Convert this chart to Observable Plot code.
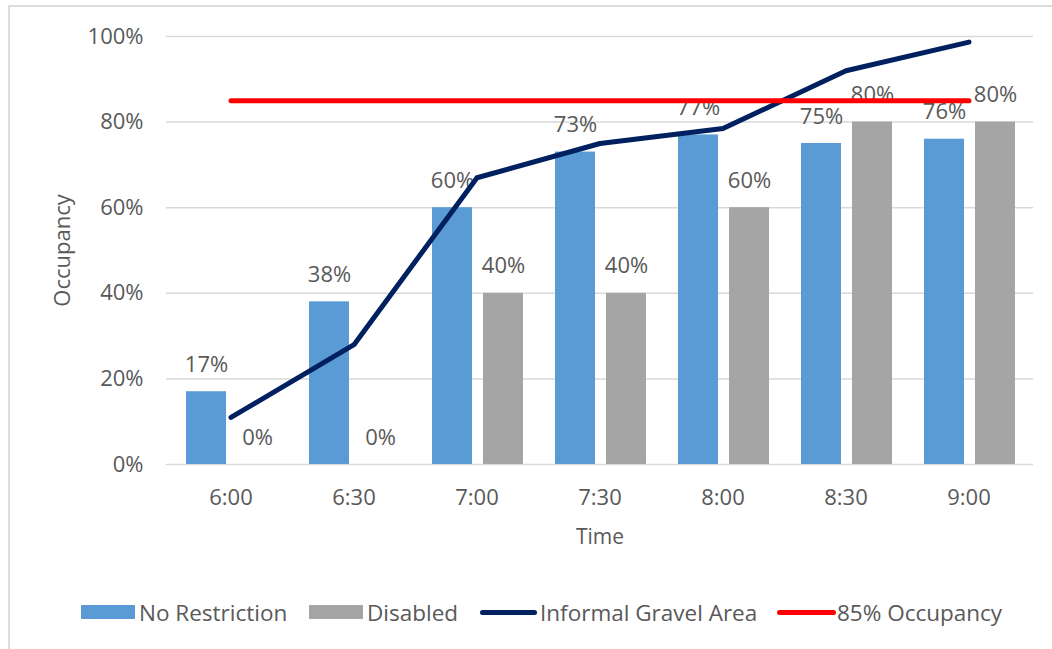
<!DOCTYPE html>
<html>
<head>
<meta charset="utf-8">
<script src="https://cdn.jsdelivr.net/npm/d3@7"></script>
<script src="https://cdn.jsdelivr.net/npm/@observablehq/plot@0.6"></script>
<style>
  body { margin: 0; background: #fff; }
  #wrap { position: relative; width: 1052px; height: 649px; overflow: hidden; font-family: "Open Sans", sans-serif; color: #595959; }
  #border { position: absolute; left: 8px; top: 5px; right: -10px; bottom: -10px; border-left: 2px solid #dcdcdc; border-top: 2px solid #dcdcdc; }
  #chart { position: absolute; left: 0; top: 0; }
  .leg { position: absolute; top: 597px; height: 30px; display: flex; align-items: center; font-size: 22.5px; white-space: nowrap; }
  .sw { display: inline-block; }
</style>
</head>
<body>
<div id="wrap">
  <div id="border"></div>
  <div id="chart"></div>
  <div class="leg" style="left:81px"><span class="sw" style="width:54px;height:14px;background:#5b9bd5"></span><span style="margin-left:4px">No Restriction</span></div>
  <div class="leg" style="left:309px"><span class="sw" style="width:54px;height:14px;background:#a5a5a5"></span><span style="margin-left:4px">Disabled</span></div>
  <div class="leg" style="left:480px"><span class="sw" style="width:57px;height:5px;border-radius:3px;background:#002060"></span><span style="margin-left:3px">Informal Gravel Area</span></div>
  <div class="leg" style="left:777px"><span class="sw" style="width:59px;height:5px;border-radius:3px;background:#ff0000"></span><span style="margin-left:1px">85% Occupancy</span></div>
</div>
<script>
const times = ["6:00", "6:30", "7:00", "7:30", "8:00", "8:30", "9:00"];
const noRestriction = [17, 38, 60, 73, 77, 75, 76];
const disabled = [0, 0, 40, 40, 60, 80, 80];
const informalGravel = [11, 28, 67, 75, 78.5, 92, 98.7];
const threshold = [85, 85, 85, 85, 85, 85, 85];
const yTicks = [0, 20, 40, 60, 80, 100];

const blueRows = times.map((t, i) => ({time: t, value: noRestriction[i]}));
const grayRows = times.map((t, i) => ({time: t, value: disabled[i]}));
const gravelRows = times.map((t, i) => ({time: t, value: informalGravel[i]}));
const threshRows = times.map((t, i) => ({time: t, value: threshold[i]}));

const textColor = "#595959";

const chart = Plot.plot({
  width: 1052,
  height: 560,
  marginLeft: 166,
  marginRight: 19,
  marginTop: 36,
  marginBottom: 96,
  style: {fontFamily: "Open Sans, sans-serif", fontSize: "22px", color: textColor, background: "transparent"},
  x: {type: "band", domain: times, padding: 0, label: null},
  y: {domain: [0, 100], label: null},
  marks: [
    Plot.ruleY(yTicks, {stroke: "#d9d9d9", strokeWidth: 1.5}),
    Plot.axisY({ticks: yTicks, tickSize: 0, tickPadding: 23, tickFormat: d => d + "%", label: null, fontSize: 22}),
    Plot.axisX({tickSize: 0, tickPadding: 25, label: null, fontSize: 22}),
    Plot.barY(blueRows, {x: "time", y: "value", fill: "#5b9bd5", insetLeft: 17, insetRight: 66}),
    Plot.barY(grayRows, {x: "time", y: "value", fill: "#a5a5a5", insetLeft: 68, insetRight: 15}),
    Plot.text(blueRows, {x: "time", y: "value", text: d => d.value + "%", dx: -24.5, dy: -27, fill: textColor, fontSize: 22, lineAnchor: "middle"}),
    Plot.text(grayRows, {x: "time", y: "value", text: d => d.value + "%", dx: 26.5, dy: -27, fill: textColor, fontSize: 22, lineAnchor: "middle"}),
    Plot.line(gravelRows, {x: "time", y: "value", stroke: "#002060", strokeWidth: 5, strokeLinecap: "round", strokeLinejoin: "round"}),
    Plot.line(threshRows, {x: "time", y: "value", stroke: "#ff0000", strokeWidth: 5, strokeLinecap: "round"}),
    Plot.text(["Occupancy"], {text: d => d, frameAnchor: "left", dx: -104, rotate: -90, textAnchor: "middle", lineAnchor: "middle", fill: textColor, fontSize: 22}),
    Plot.text(["Time"], {text: d => d, frameAnchor: "bottom", dy: 73, textAnchor: "middle", lineAnchor: "middle", fill: textColor, fontSize: 21})
  ]
});
document.getElementById("chart").appendChild(chart);
</script>
</body>
</html>
